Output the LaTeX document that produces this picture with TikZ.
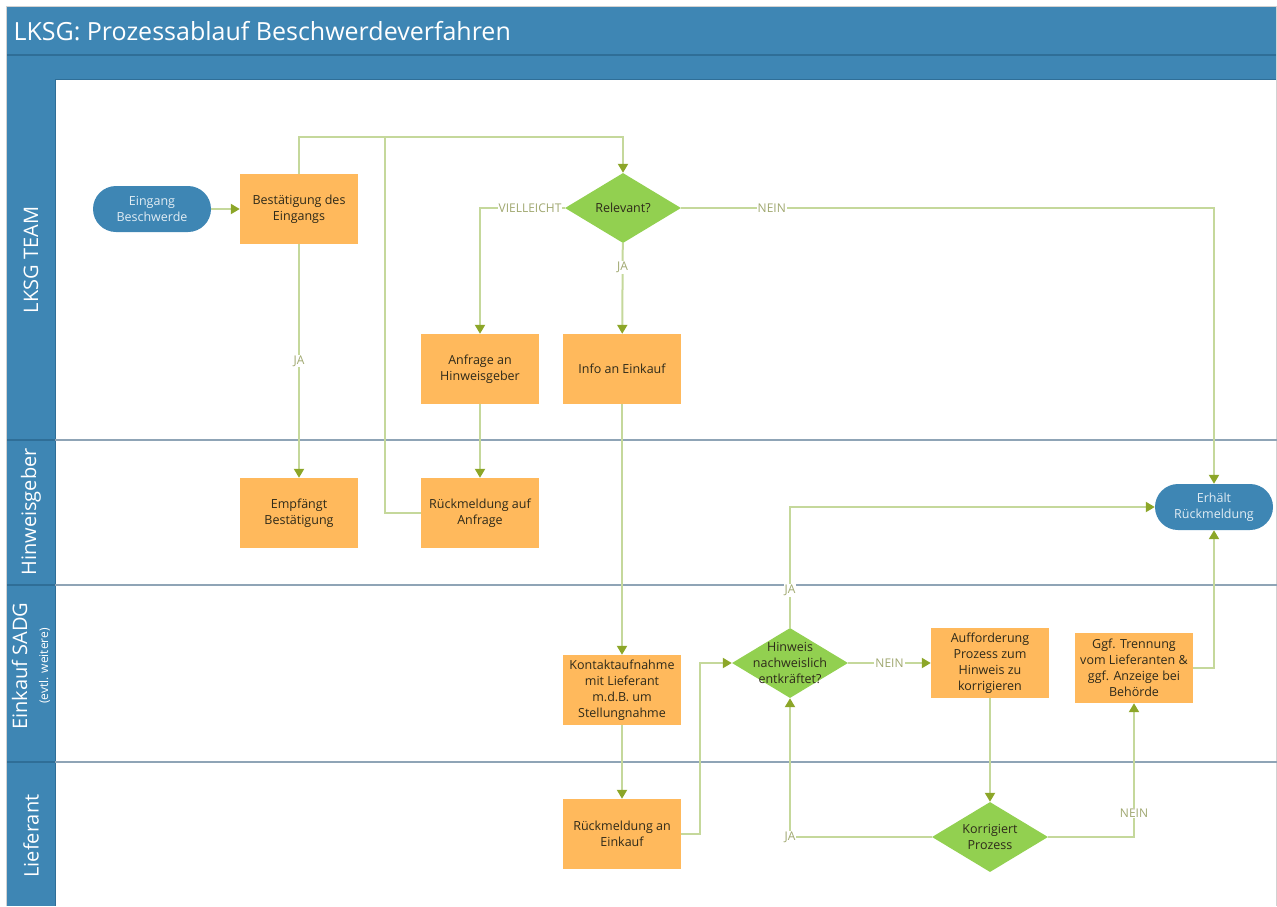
\documentclass[tikz,border=0pt]{standalone}
\usepackage{fontspec}
\setmainfont{Open Sans}
\usepackage{tikz}
\usetikzlibrary{shapes.geometric}
\usetikzlibrary{arrows.meta}
\definecolor{laneblue}{HTML}{3E86B4}
\definecolor{lanedark}{HTML}{2F6E97}
\definecolor{laneline}{HTML}{8FA4B6}
\definecolor{boxorange}{HTML}{FFB95C}
\definecolor{diagreen}{HTML}{92D050}
\definecolor{flowline}{HTML}{C5D89B}
\definecolor{flowtip}{HTML}{8CA628}
\definecolor{flowtext}{HTML}{A0A870}
\definecolor{boxtext}{HTML}{2E2A1A}
\newcommand{\boxfont}{\fontsize{12.5}{16}\selectfont}
\tikzstyle{task} = [rectangle, fill=boxorange, text=boxtext, minimum width=118pt,
minimum height=70pt, align=center, inner sep=1pt, font=\boxfont]
\tikzstyle{terminal} = [rectangle, rounded corners=23pt, fill=laneblue, text=white!85!laneblue,
minimum width=118pt, minimum height=46pt, align=center, inner sep=2pt, font=\boxfont]
\tikzstyle{decision} = [diamond, aspect=1.6, fill=diagreen, text=boxtext, minimum width=116pt,
minimum height=70pt, inner sep=0pt, align=center, font=\boxfont]
\tikzstyle{flow} = [draw=flowline, line width=2pt, -{Triangle[width=10pt,length=9pt,color=flowtip]}]
\tikzstyle{flowjoin} = [draw=flowline, line width=2pt]
\tikzstyle{lbl} = [fill=white, text=flowtext, inner sep=1pt, font=\fontsize{12}{14}\selectfont]
\tikzstyle{lanetitle} = [rotate=90, text=white, align=center, font=\fontsize{20}{24}\selectfont]

\begin{document}
\begin{tikzpicture}[x=1pt, y=-1pt]
        \useasboundingbox (0,0) rectangle (1277,906);
        % pool and lanes
        \fill[laneblue] (7,7) rectangle (1277,80);
        \fill[laneblue] (7,80) rectangle (55,906);
        \draw[lanedark, line width=1.5pt] (7,55) -- (1277,55);
        \draw[lanedark, line width=1pt] (55,79) -- (1277,79);
        \draw[lanedark, line width=1pt] (55,80) -- (55,906);
        \draw[gray!35, line width=1pt] (6.5,906) |- (1276.5,6.5) -- (1276.5,906);
        \foreach \y in {440,585,762} {
            \draw[laneline, line width=2.5pt] (55,\y) -- (1277,\y);
            \draw[lanedark, line width=1.5pt] (7,\y) -- (55,\y);
        }
        \node[anchor=west, text=white, font=\fontsize{25}{30}\selectfont] (titel) at (10,31) {LKSG: Prozessablauf Beschwerdeverfahren};
        \node[lanetitle] (lteam) at (31,260) {LKSG TEAM};
        \node[lanetitle] (lhinweis) at (31,512) {Hinweisgeber};
        \node[lanetitle] (leinkauf) at (31,666) {Einkauf SADG\\[-3pt]{\fontsize{12}{14}\selectfont(evtl. weitere)}};
        \node[lanetitle] (lliefer) at (31,836) {Lieferant};

        % steps
        \node[terminal] (eingang) at (152,209) {Eingang\\Beschwerde};
        \node[task] (bestaetigung) at (299,209) {Bestätigung des\\Eingangs};
        \node[decision] (relevant) at (623,208) {Relevant?};
        \node[task] (anfrage) at (480,369) {Anfrage an\\Hinweisgeber};
        \node[task] (info) at (622,369) {Info an Einkauf};
        \node[task] (empfang) at (299,513) {Empfängt\\Bestätigung};
        \node[task] (antwort) at (480,513) {Rückmeldung auf\\Anfrage};
        \node[terminal] (erhaelt) at (1214,507) {Erhält\\Rückmeldung};
        \node[task] (kontakt) at (622,690) {Kontaktaufnahme\\mit Lieferant\\m.d.B. um\\Stellungnahme};
        \node[decision, inner sep=-8pt] (hinweis) at (790,663) {Hinweis\\nachweislich\\entkräftet?};
        \node[task] (aufforderung) at (990,663) {Aufforderung\\Prozess zum\\Hinweis zu\\korrigieren};
        \node[task] (trennung) at (1134,668) {Ggf. Trennung\\vom Lieferanten \&\\ggf. Anzeige bei\\Behörde};
        \node[task] (rueckmeldung) at (622,834) {Rückmeldung an\\Einkauf};
        \node[decision] (korrigiert) at (990,837) {Korrigiert\\Prozess};
        \coordinate (ueber) at (385,137);

        % flow
        \draw[flow] (eingang) -- (bestaetigung);
        \draw[flow] (bestaetigung.north) |- (ueber) -| (relevant.north);
        \draw[flowjoin] (antwort.west) -| (ueber);
        \draw[flow] (bestaetigung) -- node[lbl] {JA} (empfang);
        \draw[flow] (relevant.west) -- node[lbl, pos=0.41] {VIELLEICHT} (relevant.west -| anfrage) -- (anfrage);
        \draw[flow] (relevant) -- node[lbl, pos=0.27] {JA} (info);
        \draw[flow] (relevant.east) -- node[lbl, pos=0.17] {NEIN} (relevant.east -| erhaelt) -- (erhaelt);
        \draw[flow] (anfrage) -- (antwort);
        \draw[flow] (info) -- (kontakt);
        \draw[flow] (kontakt) -- (rueckmeldung);
        \draw[flow] (rueckmeldung.east) -- ++(19,0) |- (hinweis.west);
        \draw[flow] (hinweis.north) -- node[lbl, pos=0.31] {JA} (hinweis.north |- erhaelt) -- (erhaelt.west);
        \draw[flow] (hinweis) -- node[lbl] {NEIN} (aufforderung);
        \draw[flow] (aufforderung) -- (korrigiert);
        \draw[flow] (korrigiert.west) -| node[lbl, pos=0.5] {JA} (hinweis.south);
        \draw[flow] (korrigiert.east) -| node[lbl, pos=0.59] {NEIN} (trennung.south);
        \draw[flow] (trennung.east) -| (erhaelt.south);
    \end{tikzpicture}
\end{document}
